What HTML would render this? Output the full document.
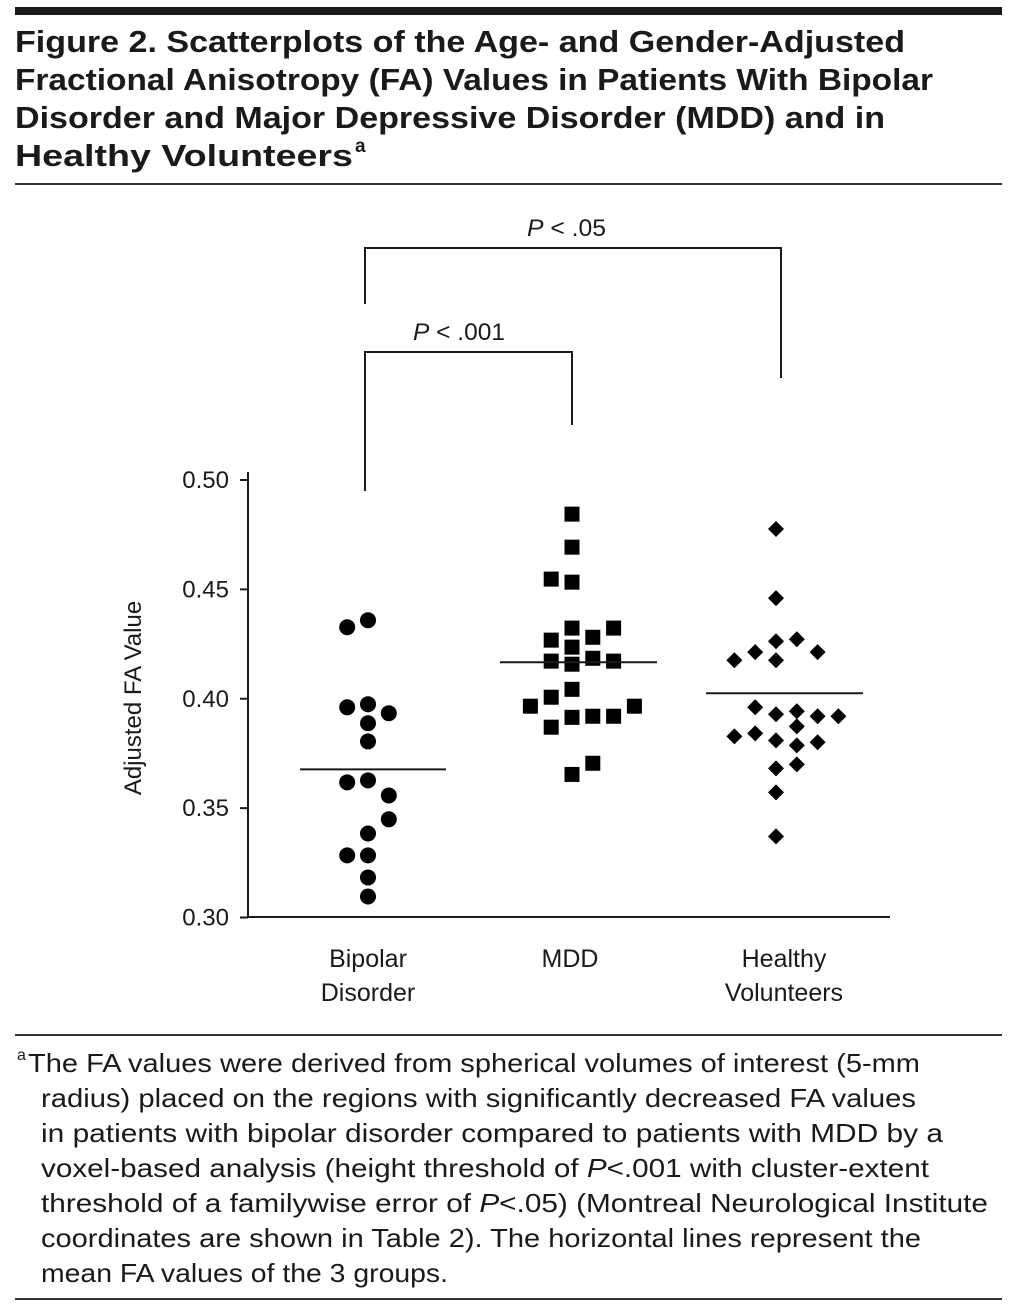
<!DOCTYPE html>
<html><head><meta charset="utf-8"><style>
html,body{margin:0;padding:0;background:#fff;}
svg text{font-family:"Liberation Sans",sans-serif;fill:#1a1a1a;}
</style></head><body>
<svg id="fig" width="1017" height="1308" viewBox="0 0 1017 1308" xmlns="http://www.w3.org/2000/svg">
<rect x="15" y="7" width="987" height="8" fill="#1a1a1a"/>
<g font-weight="bold" font-size="31">
<text x="15" y="52" textLength="890" lengthAdjust="spacingAndGlyphs">Figure 2. Scatterplots of the Age- and Gender-Adjusted</text>
<text x="15" y="90" textLength="918" lengthAdjust="spacingAndGlyphs">Fractional Anisotropy (FA) Values in Patients With Bipolar</text>
<text x="15" y="128" textLength="870" lengthAdjust="spacingAndGlyphs">Disorder and Major Depressive Disorder (MDD) and in</text>
<text x="15" y="166" textLength="338" lengthAdjust="spacingAndGlyphs">Healthy Volunteers</text>
<text x="355" y="152" font-size="19" font-weight="bold">a</text>
</g>
<rect x="15" y="183" width="987" height="2" fill="#333"/>
<g id="chart"></g>
<g stroke="#1a1a1a" stroke-width="2" fill="none">
<path d="M365 304 V248 H781 V378"/>
<path d="M365 491 V352 H572 V425"/>
</g>
<text x="527" y="236" font-size="24" textLength="79" lengthAdjust="spacingAndGlyphs"><tspan font-style="italic">P</tspan> &lt; .05</text>
<text x="413" y="340" font-size="24" textLength="92" lengthAdjust="spacingAndGlyphs"><tspan font-style="italic">P</tspan> &lt; .001</text>
<rect x="15" y="1034" width="987" height="2" fill="#333"/>
<g font-size="26">
<text x="17" y="1060" font-size="16">a</text>
<text x="28" y="1072" textLength="892" lengthAdjust="spacingAndGlyphs">The FA values were derived from spherical volumes of interest (5-mm</text>
<text x="41" y="1107" textLength="875" lengthAdjust="spacingAndGlyphs">radius) placed on the regions with significantly decreased FA values</text>
<text x="41" y="1142" textLength="902" lengthAdjust="spacingAndGlyphs">in patients with bipolar disorder compared to patients with MDD by a</text>
<text x="41" y="1177" textLength="888" lengthAdjust="spacingAndGlyphs">voxel-based analysis (height threshold of <tspan font-style="italic">P</tspan>&lt;.001 with cluster-extent</text>
<text x="41" y="1212" textLength="947" lengthAdjust="spacingAndGlyphs">threshold of a familywise error of <tspan font-style="italic">P</tspan>&lt;.05) (Montreal Neurological Institute</text>
<text x="41" y="1247" textLength="880" lengthAdjust="spacingAndGlyphs">coordinates are shown in Table 2). The horizontal lines represent the</text>
<text x="41" y="1282" textLength="407" lengthAdjust="spacingAndGlyphs">mean FA values of the 3 groups.</text>
</g>
<rect x="15" y="1298" width="987" height="2" fill="#333"/>
</svg>
<script>
const categories = ["Bipolar|Disorder", "MDD", "Healthy|Volunteers"];
const yTicks = [0.30, 0.35, 0.40, 0.45, 0.50];
const yTickLabels = ["0.30", "0.35", "0.40", "0.45", "0.50"];
const bipolarValues = [0.4327,0.4359,0.3961,0.3975,0.3934,0.3888,0.3805,0.3618,0.3627,0.3558,0.3449,0.3384,0.3284,0.3284,0.3183,0.3096];
const bipolarCols   = [-1,0,-1,0,1,0,0,-1,0,1,1,0,-1,0,0,0];
const mddValues = [0.4844,0.4693,0.4547,0.4533,0.4323,0.4323,0.4268,0.4281,0.4236,0.4172,0.4158,0.4185,0.4172,0.4043,0.4007,0.3966,0.3966,0.3915,0.3920,0.3920,0.3870,0.3705,0.3654];
const mddCols   = [0,0,-1,0,0,2,-1,1,0,-1,0,1,2,0,-1,-2,3,0,1,2,-1,1,0];
const healthyValues = [0.4776,0.4460,0.4263,0.4272,0.4213,0.4213,0.4176,0.4176,0.3961,0.3929,0.3943,0.3920,0.3920,0.3874,0.3828,0.3842,0.3810,0.3787,0.3801,0.3682,0.3700,0.3572,0.3371];
const healthyCols   = [0,0,0,1,-1,2,-2,0,-1,0,1,2,3,1,-2,-1,0,1,2,0,1,0,0];
const groupMeans = [0.3677, 0.4167, 0.4025];

const NS = "http://www.w3.org/2000/svg";
const chart = document.getElementById('chart');
const y = v => 917.5 - (v - 0.30) / 0.20 * 437.5;
const xCenter = i => 368 + i * 204;
const colStep = 20.8;
const labelX = [368, 570, 784];
function mk(tag, attrs){ const e=document.createElementNS(NS,tag); for(const k in attrs) e.setAttribute(k,attrs[k]); chart.appendChild(e); return e; }

let ax = mk('line',{x1:248,y1:472,x2:248,y2:918,stroke:'#1a1a1a','stroke-width':2});


let bx = mk('line',{x1:247,y1:917,x2:890,y2:917,stroke:'#1a1a1a','stroke-width':2});


yTicks.forEach((t,i)=>{
  const tk = mk('line',{x1:240,y1:y(t),x2:248,y2:y(t),stroke:'#1a1a1a','stroke-width':2});
  
  
  const tl = mk('text',{x:229,y:y(t)+8,'text-anchor':'end','font-size':24});
  tl.textContent = yTickLabels[i];
  
  
});
const yt = mk('text',{x:0,y:0,'text-anchor':'middle','font-size':24,transform:'translate(141,698) rotate(-90)'});
yt.textContent='Adjusted FA Value';


categories.forEach((c,i)=>{
  c.split('|').forEach((ln,j)=>{
    const t = mk('text',{x:labelX[i],y:967+j*34,'text-anchor':'middle','font-size':25});
    t.textContent = ln;
    
    
  });
});
bipolarValues.forEach((v,i)=>{
  const c = mk('circle',{cx:xCenter(0)+bipolarCols[i]*colStep,cy:y(v),r:8,fill:'#000'});
  
  
});
mddValues.forEach((v,i)=>{
  const cx = xCenter(1)+mddCols[i]*colStep, cy=y(v);
  const r = mk('rect',{x:cx-7.5,y:cy-7.5,width:15,height:15,fill:'#000'});
  
  
});
healthyValues.forEach((v,i)=>{
  const cx = xCenter(2)+healthyCols[i]*colStep, cy=y(v);
  const p = mk('polygon',{points:`${cx},${cy-8} ${cx+8},${cy} ${cx},${cy+8} ${cx-8},${cy}`,fill:'#000'});
  
  
});
const meanHalf = 78;
groupMeans.forEach((m,i)=>{
  const x1 = i===0 ? 300 : xCenter(i)-meanHalf+(i===2?8:6);
  const x2 = i===0 ? 446 : xCenter(i)+meanHalf+(i===2?9:7);
  const l = mk('line',{x1:x1,y1:y(m),x2:x2,y2:y(m),stroke:'#1a1a1a','stroke-width':2});
  
  
});
</script>
</body></html>
